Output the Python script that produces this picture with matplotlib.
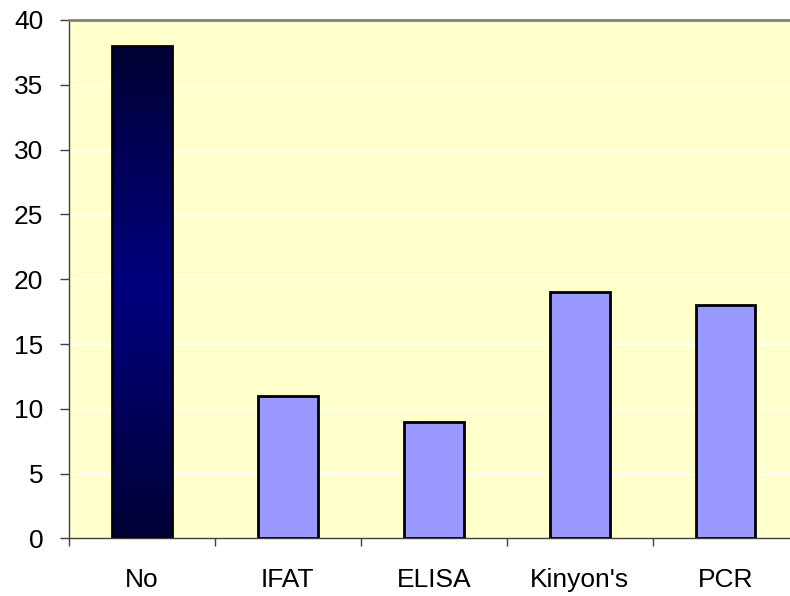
import numpy as np
import matplotlib
matplotlib.use("Agg")
import matplotlib.pyplot as plt
from matplotlib.colors import LinearSegmentedColormap

categories = ["No", "IFAT", "ELISA", "Kinyon's", "PCR"]
values = [38, 11, 9, 19, 18]

plt.rcParams["font.family"] = ["Liberation Sans", "DejaVu Sans"]

fig = plt.figure(figsize=(7.9, 5.96), dpi=100)
ax = fig.add_axes([0.0873, 0.0965, 0.9234, 0.870])
ax.set_facecolor("#FFFFCC")

x = np.arange(len(categories))
bars = ax.bar(x, values, width=0.41, color="#9999FF", edgecolor="black",
              linewidth=2, zorder=3)

# vertical navy gradient for the first bar
first = bars[0]
first.set_facecolor("none")
cmap = LinearSegmentedColormap.from_list(
    "navy_grad", ["#000033", "#000080", "#000033"])
grad = np.linspace(0, 1, 256).reshape(-1, 1)
bx, bw, bh = first.get_x(), first.get_width(), first.get_height()
im = ax.imshow(grad, cmap=cmap, aspect="auto", origin="lower",
               extent=[bx, bx + bw, 0, bh], zorder=2.5, interpolation="bicubic")
im.set_clip_path(first)

ax.set_xlim(-0.5, len(categories) - 0.5)
ax.set_ylim(0, 40)
ax.set_yticks(np.arange(0, 41, 5))
ax.yaxis.grid(True, color="white", linewidth=1, zorder=1)
ax.set_axisbelow(True)

ax.set_xticks(x)
ax.set_xticklabels(categories)
ax.set_xticks(np.arange(-0.5, len(categories), 1), minor=True)
ax.tick_params(axis="x", which="major", length=0, pad=21, labelsize=19)
ax.tick_params(axis="x", which="minor", length=6, width=1, color="#404040")
ax.tick_params(axis="y", length=6.5, width=1, color="#404040", labelsize=19, pad=12)

for side in ["left", "bottom"]:
    ax.spines[side].set_color("#404040")
    ax.spines[side].set_linewidth(1)
ax.spines["top"].set_color("#808080")
ax.spines["top"].set_linewidth(2)
ax.spines["right"].set_visible(False)

fig.savefig("out.png", dpi=100)
